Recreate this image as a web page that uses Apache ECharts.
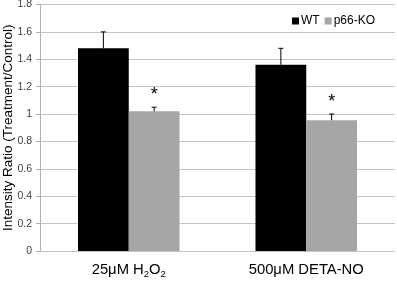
<!DOCTYPE html>
<html>
<head>
<meta charset="utf-8">
<script src="https://cdn.jsdelivr.net/npm/echarts@6/dist/echarts.min.js"></script>
<style>
html, body { margin: 0; padding: 0; background: #fff; }
#chart { width: 397px; height: 282px; }
</style>
</head>
<body>
<div id="chart"></div>
<script>
var categories = ['{a|25μM H}{s|2}{a|O}{s|2}', '{a|500μM DETA-NO}'];
var seriesNames = ['WT', 'p66-KO'];
var wtValues = [1.48, 1.36];
var koValues = [1.02, 0.955];
var wtErrors = [0.12, 0.12];
var koErrors = [0.03, 0.045];
var koStars = ['*', '*'];

var myChart = echarts.init(document.getElementById('chart'));

var BAR_PCT = 0.286;

function errorSeries(name, values, errors, side, stars) {
    var data = values.map(function (v, i) {
        return [i, v, v + errors[i], stars ? stars[i] : ''];
    });
    return {
        name: name + '-err',
        type: 'custom',
        silent: true,
        z: 5,
        data: data,
        renderItem: function (params, api) {
            var idx = api.value(0);
            var base = api.coord([idx, api.value(1)]);
            var top = api.coord([idx, api.value(2)]);
            var band = api.size([1, 0])[0];
            var x = base[0] + side * band * BAR_PCT / 2;
            var children = [
                { type: 'line', shape: { x1: x, y1: base[1], x2: x, y2: top[1] }, style: { stroke: '#000', lineWidth: 1 } },
                { type: 'line', shape: { x1: x - 2.5, y1: top[1], x2: x + 2.5, y2: top[1] }, style: { stroke: '#000', lineWidth: 1 } }
            ];
            var star = api.value(3);
            if (star) {
                children.push({
                    type: 'text',
                    style: { text: star, x: x, y: top[1] - 3, align: 'center', verticalAlign: 'bottom', fontSize: 18, fontFamily: 'Liberation Sans', fill: '#000' }
                });
            }
            return { type: 'group', children: children };
        }
    };
}

var option = {
    animation: false,
    textStyle: { fontFamily: 'Liberation Sans' },
    legend: {
        data: seriesNames,
        right: 17,
        top: 10,
        itemWidth: 7,
        itemHeight: 7,
        itemGap: 5,
        icon: 'rect',
        textStyle: { fontSize: 12, color: '#000', padding: [0, 0, 0, -3] }
    },
    grid: {
        left: 40,
        right: 2,
        top: 4.5,
        bottom: 31,
        outerBoundsMode: 'none'
    },
    xAxis: {
        type: 'category',
        data: categories,
        axisLine: { show: false },
        axisTick: { show: false },
        axisLabel: {
            interval: 0,
            margin: 11,
            color: '#000',
            rich: {
                a: { fontSize: 14.8, color: '#000', fontFamily: 'Liberation Sans', verticalAlign: 'top', lineHeight: 16 },
                s: { fontSize: 9.5, color: '#000', fontFamily: 'Liberation Sans', verticalAlign: 'top', lineHeight: 16, padding: [7, 0, 0, 0] }
            }
        }
    },
    yAxis: {
        type: 'value',
        min: 0,
        max: 1.8,
        interval: 0.2,
        name: 'Intensity Ratio (Treatment/Control)',
        nameLocation: 'middle',
        nameGap: 25,
        nameMoveOverlap: false,
        nameTextStyle: { fontSize: 13.5, color: '#000' },
        axisLine: { show: true, lineStyle: { color: '#b0b0b0' } },
        axisTick: { show: true, length: 4, lineStyle: { color: '#b0b0b0' } },
        axisLabel: { fontSize: 10.5, color: '#404040', margin: 8 },
        splitLine: { lineStyle: { color: '#c4c4c4' } }
    },
    series: [
        {
            name: seriesNames[0],
            type: 'bar',
            data: wtValues,
            barWidth: (BAR_PCT * 100) + '%',
            barGap: '0%',
            itemStyle: { color: '#000' }
        },
        {
            name: seriesNames[1],
            type: 'bar',
            data: koValues,
            barWidth: (BAR_PCT * 100) + '%',
            barGap: '0%',
            itemStyle: { color: '#a6a6a6' }
        },
        errorSeries('WT', wtValues, wtErrors, -1, null),
        errorSeries('KO', koValues, koErrors, 1, koStars)
    ]
};

myChart.setOption(option);
</script>
</body>
</html>
